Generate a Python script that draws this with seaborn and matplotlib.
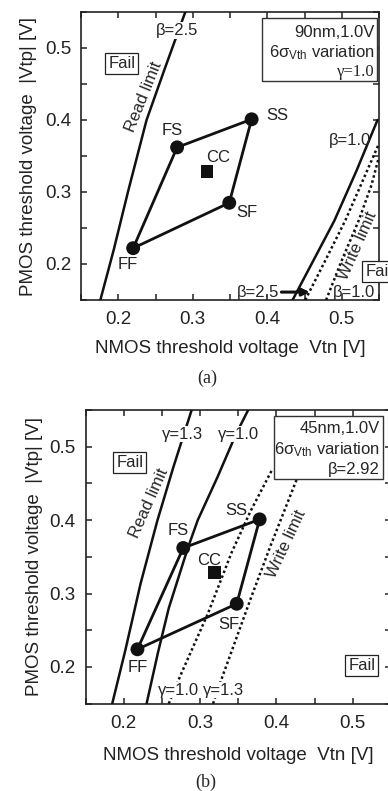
import numpy as np
import pandas as pd
import matplotlib
matplotlib.use('Agg')
import matplotlib.pyplot as plt
import seaborn as sns
from matplotlib.patches import Rectangle
from matplotlib.ticker import FixedLocator, MultipleLocator

# ---------------- data ----------------
corner_labels = ['FF', 'FS', 'SS', 'SF']
a_corner_vtn = [0.220, 0.279, 0.379, 0.349]
a_corner_vtp = [0.222, 0.362, 0.401, 0.285]
a_cc = [0.319, 0.329]

b_corner_vtn = [0.218, 0.278, 0.378, 0.348]
b_corner_vtp = [0.224, 0.362, 0.401, 0.286]
b_cc = [0.319, 0.329]

# panel (a) limit curves
a_read_vtn = [0.176, 0.194, 0.213, 0.238, 0.262, 0.290]
a_read_vtp = [0.150, 0.220, 0.300, 0.400, 0.470, 0.550]
a_write_solid_vtn = [0.434, 0.462, 0.490, 0.520, 0.548]
a_write_solid_vtp = [0.150, 0.205, 0.260, 0.330, 0.400]
a_write_dot1_vtn = [0.451, 0.478, 0.505, 0.530, 0.549]
a_write_dot1_vtp = [0.150, 0.205, 0.261, 0.320, 0.365]
a_write_dot2_vtn = [0.479, 0.500, 0.523, 0.540, 0.549]
a_write_dot2_vtp = [0.150, 0.205, 0.261, 0.310, 0.345]

# panel (b) limit curves
b_read13_vtn = [0.185, 0.202, 0.222, 0.244, 0.265, 0.289]
b_read13_vtp = [0.150, 0.222, 0.313, 0.399, 0.472, 0.550]
b_read10_vtn = [0.230, 0.245, 0.259, 0.284, 0.297, 0.323, 0.347, 0.363]
b_read10_vtp = [0.150, 0.220, 0.280, 0.362, 0.400, 0.459, 0.517, 0.550]
b_write10_vtn = [0.259, 0.275, 0.310, 0.341, 0.366, 0.395]
b_write10_vtp = [0.150, 0.190, 0.272, 0.355, 0.412, 0.470]
b_write13_vtn = [0.317, 0.329, 0.367, 0.393, 0.426, 0.436]
b_write13_vtp = [0.150, 0.186, 0.295, 0.367, 0.454, 0.480]

x_ticks = [0.2, 0.3, 0.4, 0.5]
y_ticks = [0.2, 0.3, 0.4, 0.5]
x_label = 'NMOS threshold voltage  Vtn [V]'
y_label = 'PMOS threshold voltage  |Vtp| [V]'

# ---------------- style ----------------
sns.set_theme(style='ticks')
plt.rcParams['font.family'] = ['Liberation Sans', 'DejaVu Sans']
plt.rcParams['mathtext.fontset'] = 'custom'
plt.rcParams['mathtext.rm'] = 'Liberation Sans'
plt.rcParams['mathtext.it'] = 'Liberation Sans:italic'
plt.rcParams['mathtext.bf'] = 'Liberation Sans:bold'

W, H = 388, 791
fig = plt.figure(figsize=(W / 100, H / 100), dpi=100)
fig.patch.set_facecolor('white')

ax_a = fig.add_axes([81 / W, 1 - 300 / H, 298 / W, 288 / H])
ax_b = fig.add_axes([85.5 / W, 1 - 703.6 / H, 305.5 / W, 293.6 / H])

LAB = 12
TICK = 13.5
serif = ['Liberation Serif', 'DejaVu Serif']


def style_axes(ax, xl_y, yl_x):
    ax.set_xlim(0.15, 0.55)
    ax.set_ylim(0.15, 0.55)
    ax.set_facecolor('white')
    ax.xaxis.set_major_locator(FixedLocator(x_ticks))
    ax.yaxis.set_major_locator(FixedLocator(y_ticks))
    ax.xaxis.set_minor_locator(MultipleLocator(0.05))
    ax.yaxis.set_minor_locator(MultipleLocator(0.05))
    ax.set_xticklabels([f'{v:.1f}' for v in x_ticks])
    ax.set_yticklabels([f'{v:.1f}' for v in y_ticks])
    ax.tick_params(which='both', direction='in', top=True, right=True,
                   length=4.5, width=1.1, color='#222222')
    ax.tick_params(axis='x', which='major', labelsize=TICK, pad=8, labelcolor='#222222')
    ax.tick_params(axis='y', which='major', labelsize=TICK, pad=7, labelcolor='#222222')
    for s in ax.spines.values():
        s.set_linewidth(1.2)
        s.set_color('#222222')
    ax.set_xlabel(x_label, fontsize=TICK, color='#222222')
    ax.set_ylabel(y_label, fontsize=TICK, color='#222222')
    ax.xaxis.set_label_coords(0.5, xl_y)
    ax.yaxis.set_label_coords(yl_x, 0.5)
    ax.grid(False)


def draw_corners(ax, vtn, vtp, cc):
    df = pd.DataFrame({'vtn': vtn + [vtn[0]], 'vtp': vtp + [vtp[0]]})
    sns.lineplot(data=df, x='vtn', y='vtp', sort=False, estimator=None,
                 color='#111111', lw=2.0, ax=ax, zorder=4)
    sns.scatterplot(x=vtn, y=vtp, s=100, color='#111111', edgecolor='none',
                    ax=ax, zorder=5)
    sns.scatterplot(x=[cc[0]], y=[cc[1]], marker='s', s=85, color='#111111',
                    edgecolor='none', ax=ax, zorder=5)


def curve(ax, x, y, dotted=False, lw=1.8):
    sns.lineplot(x=x, y=y, sort=False, estimator=None, color='#111111',
                 lw=lw, ax=ax, zorder=3,
                 linestyle=(0, (1.0, 1.1)) if dotted else '-')


fail_box = dict(boxstyle='square,pad=0.18', fc='white', ec='#222222', lw=0.9)
white_bg = dict(boxstyle='square,pad=0.05', fc='white', ec='none')

# ---------------- panel (a) ----------------
ax = ax_a
style_axes(ax, -0.139, -0.148)
curve(ax, a_read_vtn, a_read_vtp)
curve(ax, a_write_solid_vtn, a_write_solid_vtp)
curve(ax, a_write_dot1_vtn, a_write_dot1_vtp, dotted=True)
curve(ax, a_write_dot2_vtn, a_write_dot2_vtp, dotted=True)
draw_corners(ax, a_corner_vtn, a_corner_vtp, a_cc)

ax.text(0.2726, 0.385, 'FS', fontsize=LAB, ha='center', va='center', color='#222222')
ax.text(0.414, 0.4065, 'SS', fontsize=LAB, ha='center', va='center', color='#222222')
ax.text(0.3343, 0.348, 'CC', fontsize=LAB, ha='center', va='center', color='#222222')
ax.text(0.3724, 0.2715, 'SF', fontsize=LAB, ha='center', va='center', color='#222222')
ax.text(0.2122, 0.199, 'FF', fontsize=LAB, ha='center', va='center', color='#222222')

ax.text(0.2046, 0.479, 'Fail', fontsize=LAB, ha='center', va='center', bbox=fail_box, zorder=6)
ax.text(0.2795, 0.524, 'β=2.5', fontsize=LAB, ha='center', va='center', bbox=white_bg, zorder=6)
ax.text(0.2337, 0.4324, 'Read limit', fontsize=LAB, ha='center', va='center',
        rotation=68, rotation_mode='anchor', zorder=6)
ax.text(0.511, 0.371, 'β=1.0', fontsize=LAB, ha='center', va='center', zorder=6)
ax.text(0.521, 0.226, 'Write limit', fontsize=LAB, ha='center', va='center',
        rotation=66, rotation_mode='anchor', zorder=6)
ax.text(0.5315, 0.1893, 'Fail', fontsize=LAB, ha='left', va='center', bbox=fail_box,
        zorder=7, clip_on=False)
ax.text(0.387, 0.161, 'β=2.5', fontsize=LAB, ha='center', va='center', zorder=6)
ax.annotate('', xy=(0.457, 0.161), xytext=(0.419, 0.161),
            arrowprops=dict(arrowstyle='-|>', lw=2.2, color='#111111',
                            mutation_scale=11, shrinkA=0, shrinkB=0), zorder=6)
ax.text(0.5165, 0.160, 'β=1.0', fontsize=LAB, ha='center', va='center', zorder=6)

ax.add_patch(Rectangle((0.393, 0.454), 0.154, 0.0877, fc='white', ec='#333333',
                       lw=1.0, zorder=7))
ax.text(0.5446, 0.521, '90nm,1.0V', fontsize=LAB, ha='right', va='center', zorder=8)
ax.text(0.5446, 0.494, '6σ$_\\mathregular{Vth}$ variation', fontsize=LAB, ha='right',
        va='center', zorder=8)
ax.text(0.5446, 0.467, 'γ=1.0', fontsize=LAB, ha='right', va='center', family=serif,
        zorder=8)

# ---------------- panel (b) ----------------
ax = ax_b
style_axes(ax, -0.148, -0.139)
curve(ax, b_read13_vtn, b_read13_vtp)
curve(ax, b_read10_vtn, b_read10_vtp)
curve(ax, b_write10_vtn, b_write10_vtp, dotted=True)
curve(ax, b_write13_vtn, b_write13_vtp, dotted=True)
draw_corners(ax, b_corner_vtn, b_corner_vtp, b_cc)

ax.text(0.2715, 0.3856, 'FS', fontsize=LAB, ha='center', va='center', color='#222222')
ax.text(0.347, 0.4128, 'SS', fontsize=LAB, ha='center', va='center', color='#222222')
ax.text(0.312, 0.3456, 'CC', fontsize=LAB, ha='center', va='center', color='#222222')
ax.text(0.3382, 0.2571, 'SF', fontsize=LAB, ha='center', va='center', color='#222222')
ax.text(0.2183, 0.1994, 'FF', fontsize=LAB, ha='center', va='center', color='#222222')

ax.text(0.2082, 0.4782, 'Fail', fontsize=LAB, ha='center', va='center', bbox=fail_box, zorder=6)
ax.text(0.512, 0.2015, 'Fail', fontsize=LAB, ha='center', va='center', bbox=fail_box, zorder=6)
ax.text(0.2772, 0.5173, 'γ=1.3', fontsize=LAB, ha='center', va='center', bbox=white_bg, zorder=6)
ax.text(0.350, 0.5173, 'γ=1.0', fontsize=LAB, ha='center', va='center', bbox=white_bg, zorder=6)
ax.text(0.2715, 0.1685, 'γ=1.0', fontsize=LAB, ha='center', va='center', bbox=white_bg, zorder=6)
ax.text(0.3304, 0.1685, 'γ=1.3', fontsize=LAB, ha='center', va='center', bbox=white_bg, zorder=6)
ax.text(0.2335, 0.423, 'Read limit', fontsize=LAB, ha='center', va='center',
        rotation=66, rotation_mode='anchor', zorder=6)
ax.text(0.4133, 0.3674, 'Write limit', fontsize=LAB, ha='center', va='center',
        rotation=65, rotation_mode='anchor', zorder=6)

ax.add_patch(Rectangle((0.397, 0.456), 0.1424, 0.0858, fc='white', ec='#333333',
                       lw=1.0, zorder=7))
ax.text(0.5355, 0.525, '45nm,1.0V', fontsize=LAB, ha='right', va='center', zorder=8)
ax.text(0.5355, 0.4955, '6σ$_\\mathregular{Vth}$ variation', fontsize=LAB, ha='right',
        va='center', zorder=8)
ax.text(0.5355, 0.4684, 'β=2.92', fontsize=LAB, ha='right', va='center', zorder=8)

fig.text(207 / W, 1 - 378 / H, '(a)', fontsize=13, family=serif, ha='center', va='center')
fig.text(206 / W, 1 - 782 / H, '(b)', fontsize=13, family=serif, ha='center', va='center')

fig.savefig('out.png', dpi=100, facecolor='white')
